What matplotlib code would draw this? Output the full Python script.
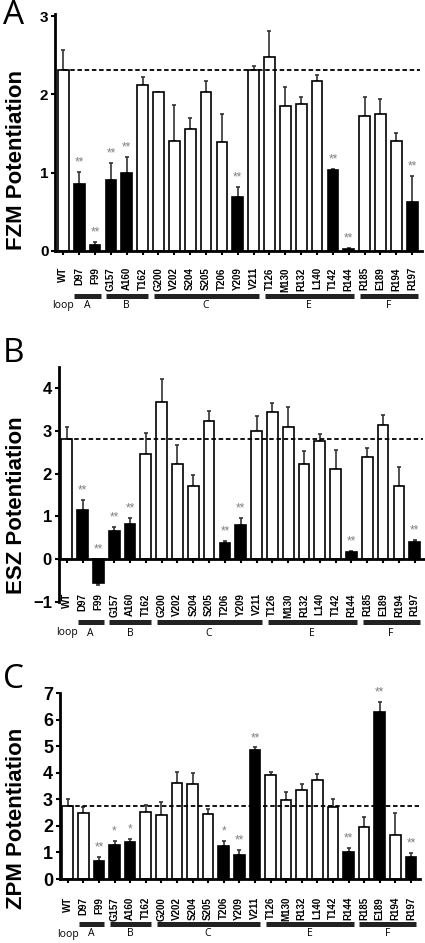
import matplotlib
matplotlib.use("Agg")
import matplotlib.pyplot as plt
from matplotlib import transforms

plt.rcParams["font.family"] = ["Liberation Sans", "DejaVu Sans"]

mutants = ["WT", "D97", "F99", "G157", "A160", "T162", "G200", "V202", "S204",
           "S205", "T206", "Y209", "V211", "T126", "M130", "R132", "L140", "T142",
           "R144", "R185", "E189", "R194", "R197"]

loop_names = ["A", "B", "C", "E", "F"]
loop_first = [1, 3, 6, 13, 19]
loop_last = [2, 5, 12, 18, 22]

# FZM potentiation (mean, SEM) and significance marks
fzm_mean = [2.31, 0.85, 0.07, 0.91, 0.99, 2.12, 2.03, 1.41, 1.56, 2.03, 1.39, 0.69,
            2.31, 2.48, 1.85, 1.88, 2.17, 1.03, 0.02, 1.73, 1.75, 1.41, 0.63]
fzm_sem = [0.26, 0.16, 0.04, 0.21, 0.21, 0.11, 0.0, 0.46, 0.14, 0.14, 0.36, 0.13,
           0.05, 0.33, 0.24, 0.09, 0.08, 0.02, 0.02, 0.24, 0.19, 0.10, 0.33]
fzm_sig = ["", "**", "**", "**", "**", "", "", "", "", "", "", "**",
           "", "", "", "", "", "**", "**", "", "", "", "**"]
fzm_ref = 2.31

# ESZ potentiation
esz_mean = [2.81, 1.15, -0.55, 0.66, 0.83, 2.46, 3.68, 2.22, 1.71, 3.23, 0.38, 0.80,
            2.99, 3.45, 3.09, 2.22, 2.77, 2.12, 0.17, 2.40, 3.13, 1.72, 0.40]
esz_sem = [0.29, 0.24, 0.05, 0.10, 0.13, 0.50, 0.54, 0.44, 0.25, 0.24, 0.04, 0.17,
           0.35, 0.20, 0.46, 0.31, 0.15, 0.44, 0.02, 0.21, 0.24, 0.44, 0.04]
esz_sig = ["", "**", "**", "**", "**", "", "", "", "", "", "**", "**",
           "", "", "", "", "", "", "**", "", "", "", "**"]
esz_ref = 2.81

# ZPM potentiation
zpm_mean = [2.76, 2.49, 0.67, 1.27, 1.38, 2.54, 2.40, 3.61, 3.57, 2.44, 1.26, 0.89,
            4.86, 3.91, 2.96, 3.35, 3.73, 2.70, 1.02, 1.97, 6.31, 1.66, 0.82]
zpm_sem = [0.27, 0.21, 0.16, 0.15, 0.13, 0.25, 0.49, 0.41, 0.43, 0.19, 0.16, 0.20,
           0.10, 0.14, 0.33, 0.24, 0.21, 0.32, 0.16, 0.35, 0.35, 0.81, 0.17]
zpm_sig = ["", "", "**", "*", "*", "", "", "", "", "", "*", "**",
           "**", "", "", "", "", "", "**", "", "**", "", "**"]
zpm_ref = 2.76

W, H = 425.0, 943.0
fig = plt.figure(figsize=(W / 100, H / 100), dpi=100)


def add_panel(letter, ylabel, means, sems, sigs, ref, ylim, yticks, box,
              ytick_size, xlabel_pad, loop_bar_y, loop_text_y, letter_y, ylabel_y):
    left, right, top, bottom = box
    ax = fig.add_axes([left / W, 1 - bottom / H, (right - left) / W, (bottom - top) / H])
    ax.spines["top"].set_visible(False)
    ax.spines["right"].set_visible(False)
    ax.spines["left"].set_linewidth(2)
    ax.spines["bottom"].set_linewidth(2)
    if ylim[0] < 0:
        ax.spines["bottom"].set_position(("data", 0))

    x = list(range(len(mutants)))
    colors = ["black" if s else "white" for s in sigs]
    ax.bar(x, means, width=0.68, color=colors, edgecolor="black", linewidth=1.2, zorder=2)

    lower = [s if m < 0 else 0 for m, s in zip(means, sems)]
    upper = [0 if m < 0 else s for m, s in zip(means, sems)]
    ax.errorbar(x, means, yerr=[lower, upper], fmt="none", ecolor="#333333",
                elinewidth=1.2, capsize=1.6, capthick=1.2, zorder=1)
    ax.plot([0, 22.5], [ref, ref], color="black", linestyle=(0, (2.5, 1.5)),
            linewidth=1.3, zorder=3)

    for i, (m, s, sig) in enumerate(zip(means, sems, sigs)):
        if sig:
            y = max(m + s, 0)
            ax.annotate(sig, (i, y), xytext=(0, 2.5), textcoords="offset points",
                        ha="center", va="bottom", fontsize=8.5, color="#808080")

    ax.set_xlim(-0.5, 22.6)
    ax.set_ylim(*ylim)
    ax.set_yticks(yticks)
    ax.set_xticks(x)
    ax.set_xticklabels(mutants, rotation=90, fontsize=7, fontweight="bold")
    for lbl in ax.get_yticklabels():
        lbl.set_fontweight("bold")
        lbl.set_fontsize(ytick_size)
    ax.tick_params(axis="y", length=3, width=1.5, pad=2)
    ax.tick_params(axis="x", length=3, width=1.5, pad=xlabel_pad)

    trans = transforms.blended_transform_factory(ax.transData, fig.transFigure)
    for name, a, b in zip(loop_names, loop_first, loop_last):
        ax.plot([a - 0.3, b + 0.35], [1 - loop_bar_y / H] * 2, color="#222222",
                linewidth=3.6, solid_capstyle="butt", transform=trans, clip_on=False)
        ax.text((a + b) / 2, 1 - loop_text_y / H, name, transform=trans,
                ha="center", va="center", fontsize=7.5, family="Open Sans")
    ax.text(0, 1 - loop_text_y / H, "loop", transform=trans, ha="center",
            va="center", fontsize=7.5, family="Open Sans")

    fig.text(3 / W, 1 - letter_y / H, letter, fontsize=24, ha="left", va="center",
             family="Open Sans")
    fig.text(17 / W, 1 - ylabel_y / H, ylabel, rotation=90, fontsize=16,
             fontweight="bold", ha="center", va="center")
    return ax


add_panel("A", "FZM Potentiation", fzm_mean, fzm_sem, fzm_sig, fzm_ref,
          (0, 3.03), [0, 1, 2, 3], (55.4, 421.7, 14.0, 250.8), 11, 8.8,
          296, 305.5, 15, 160)
add_panel("B", "ESZ Potentiation", esz_mean, esz_sem, esz_sig, esz_ref,
          (-1, 4.5), [-1, 0, 1, 2, 3, 4], (58.8, 424.2, 366.7, 602.0), 12, 21.5,
          622, 633, 354, 505)
add_panel("C", "ZPM Potentiation", zpm_mean, zpm_sem, zpm_sig, zpm_ref,
          (0, 7.02), [0, 1, 2, 3, 4, 5, 6, 7], (59.9, 420.3, 692.8, 879.0), 13, 10,
          924, 934, 679, 818)

fig.savefig("out.png", dpi=100)
